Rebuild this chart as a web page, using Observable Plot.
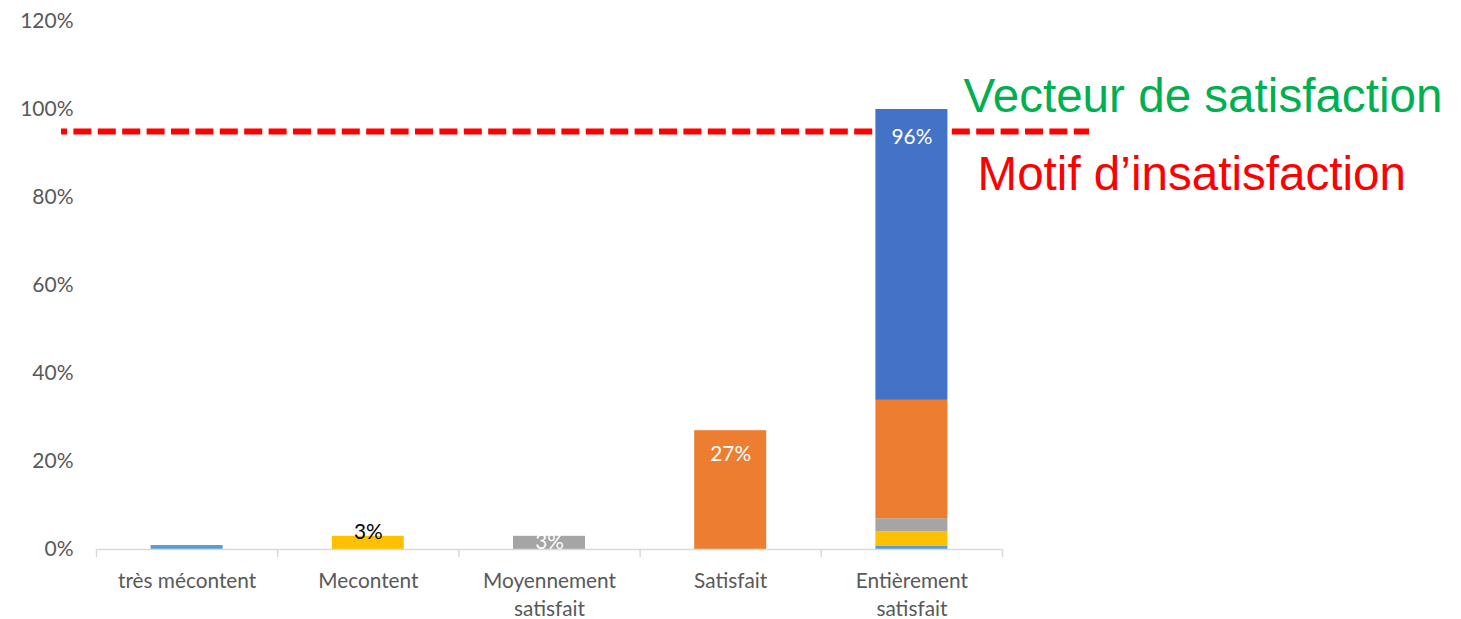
<!DOCTYPE html>
<html>
<head>
<meta charset="utf-8">
<script src="https://cdn.jsdelivr.net/npm/d3@7"></script>
<script src="https://cdn.jsdelivr.net/npm/@observablehq/plot@0.6"></script>
<style>
  html, body { margin: 0; padding: 0; background: #ffffff; }
</style>
</head>
<body>
<div id="chart"></div>
<script>
// ---- data ----
const categories = ["très mécontent", "Mecontent", "Moyennement\nsatisfait", "Satisfait", "Entièrement\nsatisfait"];
const seriesNames = ["très mécontent", "Mecontent", "Moyennement satisfait", "Satisfait", "Entièrement satisfait"];
const seriesColors = ["#5B9BD5", "#FFC000", "#A5A5A5", "#ED7D31", "#4472C4"];
const serieTresMecontent = [0.009, 0, 0, 0, 0.008];
const serieMecontent     = [0, 0.03, 0, 0, 0.032];
const serieMoyennement   = [0, 0, 0.03, 0, 0.03];
const serieSatisfait     = [0, 0, 0, 0.27, 0.269];
const serieEntierement   = [0, 0, 0, 0, 0.661];
const valueLabels = ["", "3%", "3%", "27%", "96%"];
const labelColors = ["#000000", "#000000", "#ffffff", "#ffffff", "#ffffff"];
const yTicks = [0, 0.2, 0.4, 0.6, 0.8, 1.0, 1.2];
const thresholdValue = 0.95;
const annotations = [
  {text: "Vecteur de satisfaction", color: "#00B050", x: 4.785, y: 1.028},
  {text: "Motif d\u2019insatisfaction", color: "#FF0000", x: 4.862, y: 0.851}
];

// ---- build stacked rows ----
const seriesValues = [serieTresMecontent, serieMecontent, serieMoyennement, serieSatisfait, serieEntierement];
const rows = [];
const tops = [];
categories.forEach((c, i) => {
  let acc = 0;
  seriesValues.forEach((vals, k) => {
    const v = vals[i];
    if (v > 0) rows.push({i, series: seriesNames[k], y1: acc, y2: acc + v});
    acc += v;
  });
  tops.push(acc);
});
const labelRows = valueLabels.map((t, i) => ({i, text: t, top: tops[i], color: labelColors[i]})).filter(d => d.text);
// label offsets in px from bar top (outside-end above, inside-end below)
const labelDy = [0, -4, 6, 24, 28];

const chart = Plot.plot({
  width: 1461,
  height: 619,
  marginLeft: 96,
  marginRight: 459,
  marginTop: 21,
  marginBottom: 70,
  style: {fontFamily: "Lato, 'Noto Sans', sans-serif", fontSize: "21px", color: "#595959", background: "#ffffff"},
  x: {type: "linear", domain: [0, categories.length], axis: null},
  y: {domain: [0, 1.2], axis: null},
  color: {domain: seriesNames, range: seriesColors},
  marks: [
    Plot.axisY({ticks: yTicks, tickFormat: d3.format(".0%"), tickSize: 0, tickPadding: 23, fontSize: 21, fill: "#595959", label: null}),
    Plot.ruleY([thresholdValue], {stroke: "#FF0000", strokeWidth: 6, strokeDasharray: "18,6.4", strokeDashoffset: 12, insetLeft: -35, insetRight: -87}),
    Plot.rect(rows, {x1: d => d.i, x2: d => d.i + 1, y1: "y1", y2: "y2", fill: "series", insetLeft: 54.6, insetRight: 54.6}),
    Plot.ruleY([0], {stroke: "#D9D9D9", strokeWidth: 1.5}),
    Plot.axisX({ticks: d3.range(categories.length + 1), tickSize: 8, tickFormat: () => "", stroke: "#D9D9D9", strokeWidth: 1.5, label: null}),
    Plot.axisX({ticks: d3.range(categories.length).map(i => i + 0.5), tickFormat: d => categories[Math.floor(d)], tickSize: 0, tickPadding: 19, lineHeight: 1.33, fontSize: 20.8, fill: "#595959", label: null}),
    ...labelRows.map(d => Plot.text([d], {x: r => r.i + 0.5, y: "top", text: "text", fill: r => r.color, dy: labelDy[d.i], fontSize: 20.8})),
    Plot.text(annotations, {x: "x", y: "y", text: "text", fill: "color", textAnchor: "start", fontSize: 47.6, fontFamily: "'Liberation Sans', Arial, sans-serif"})
  ]
});
document.getElementById("chart").appendChild(chart);
</script>
</body>
</html>
